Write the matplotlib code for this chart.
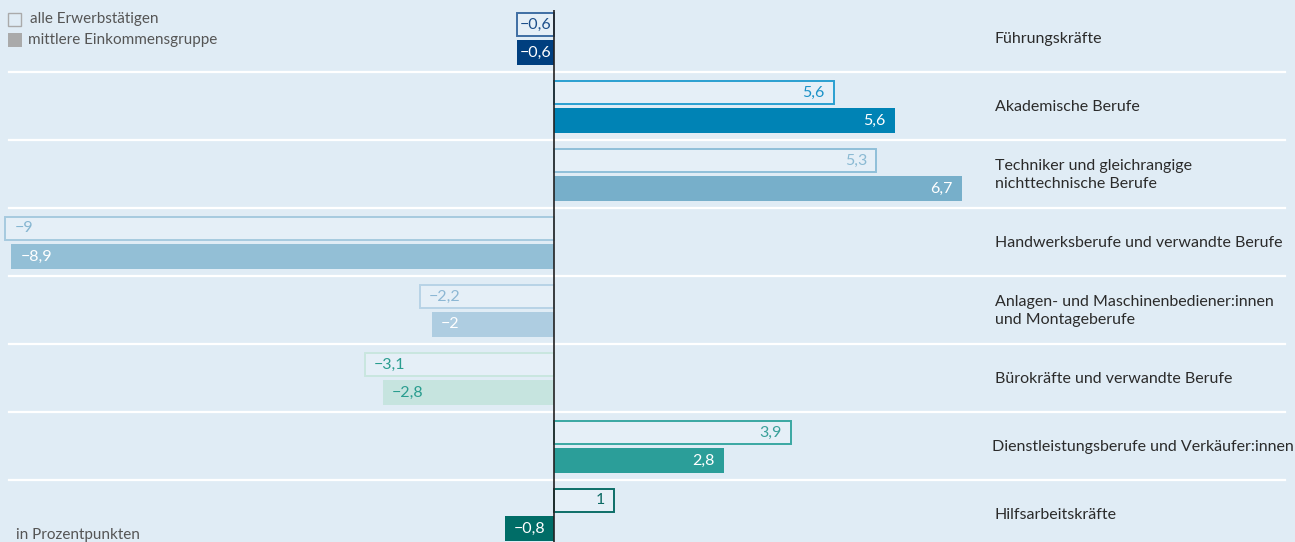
import matplotlib.pyplot as plt
from matplotlib.patches import Rectangle

plt.rcParams["font.family"] = ["Lato", "DejaVu Sans"]

berufe = [
    "Führungskräfte",
    "Akademische Berufe",
    "Techniker und gleichrangige\nnichttechnische Berufe",
    "Handwerksberufe und verwandte Berufe",
    "Anlagen- und Maschinenbediener:innen\nund Montageberufe",
    "Bürokräfte und verwandte Berufe",
    "Dienstleistungsberufe und Verkäufer:innen",
    "Hilfsarbeitskräfte",
]
# Balkenlaengen, Beschriftungen wie gedruckt
alle_werte = [-0.6, 4.6, 5.3, -9.0, -2.2, -3.1, 3.9, 1.0]
alle_text = ["−0,6", "5,6", "5,3", "−9", "−2,2", "−3,1", "3,9", "1"]
mittel_werte = [-0.6, 5.6, 6.7, -8.9, -2.0, -2.8, 2.8, -0.8]
mittel_text = ["−0,6", "5,6", "6,7", "−8,9", "−2", "−2,8", "2,8", "−0,8"]

farbe_voll = ["#003f7f", "#0083b5", "#77afca", "#93bfd6", "#aecde1", "#c6e4df", "#2b9e99", "#006d67"]
farbe_rand = ["#3f6ea3", "#2a9fd0", "#8fbfd9", "#a6cadf", "#b7d3e6", "#c9e6df", "#3aa8a2", "#0d6e68"]
farbe_randtext = ["#1d4f8a", "#1b92c8", "#8bbad3", "#86b6d1", "#8cb7d4", "#2a9d8f", "#3aa09a", "#0c6a64"]
farbe_volltext = ["white", "white", "white", "white", "white", "#2a9d8f", "white", "white"]

BG = "#e0ecf5"
W, H = 1295, 542
SCALE = 60.9      # Pixel pro Prozentpunkt
NULL_X = 553.5

fig = plt.figure(figsize=(W / 100, H / 100), dpi=100, facecolor=BG)
ax = fig.add_axes([0, 0, 1, 1])
ax.set_facecolor(BG)
ax.set_xlim(-NULL_X / SCALE, (W - NULL_X) / SCALE)
ax.set_ylim(H, 0)
ax.axis("off")

px = 1 / SCALE
zeilen = [38 + 68 * i for i in range(len(berufe))]

for i, y in enumerate(zeilen):
    if i < len(berufe) - 1:
        ax.axhline(y + 34, xmin=9 / W, xmax=1285 / W, color="white", lw=1.6, zorder=1)

    for wert, txt, oben in ((alle_werte[i], alle_text[i], True),
                            (mittel_werte[i], mittel_text[i], False)):
        yc = y - 14 if oben else y + 14
        if oben:
            ax.barh(yc, wert, height=23, left=0, facecolor="#e5eff7",
                    edgecolor=farbe_rand[i], linewidth=1.4, zorder=2)
            tc = farbe_randtext[i]
        else:
            ax.barh(yc, wert, height=25, left=0, facecolor=farbe_voll[i],
                    edgecolor="none", zorder=2)
            tc = farbe_volltext[i]
        if abs(wert) < 1:
            x, ha = wert / 2, "center"
        elif wert > 0:
            x, ha = wert - 9 * px, "right"
        else:
            x, ha = wert + 9 * px, "left"
        ax.text(x, yc + 0.5, txt, ha=ha, va="center", fontsize=11.5, color=tc, zorder=4)

    fig.text(995 / W, 1 - (y + 1) / H, berufe[i], ha="left", va="center",
             fontsize=11.5, color="#2b2b2b", linespacing=1.35)

# zu lange Beschriftung an den rechten Rand schieben
fig.canvas.draw()
r = fig.canvas.get_renderer()
for t in fig.texts:
    bb = t.get_window_extent(r)
    if bb.x1 > W:
        x0, y0 = t.get_position()
        t.set_position((x0 - (bb.x1 - W + 1) / W, y0))

ax.vlines(0, 10, H, color="#222222", lw=1.2, zorder=5)

# Legende
fig.add_artist(Rectangle((8 / W, 1 - 26 / H), 13 / W, 13 / H, transform=fig.transFigure,
                         facecolor="none", edgecolor="#aaaaaa", lw=1.0))
fig.add_artist(Rectangle((8 / W, 1 - 47 / H), 14 / W, 14 / H, transform=fig.transFigure,
                         facecolor="#aaaaaa", edgecolor="none"))
fig.text(30 / W, 1 - 19 / H, "alle Erwerbstätigen", ha="left", va="center",
         fontsize=11, color="#555555")
fig.text(28 / W, 1 - 40 / H, "mittlere Einkommensgruppe", ha="left", va="center",
         fontsize=11, color="#555555")
fig.text(16 / W, 1 - 535 / H, "in Prozentpunkten", ha="left", va="center",
         fontsize=11, color="#555555")

fig.savefig("out.png", dpi=100, facecolor=BG)
